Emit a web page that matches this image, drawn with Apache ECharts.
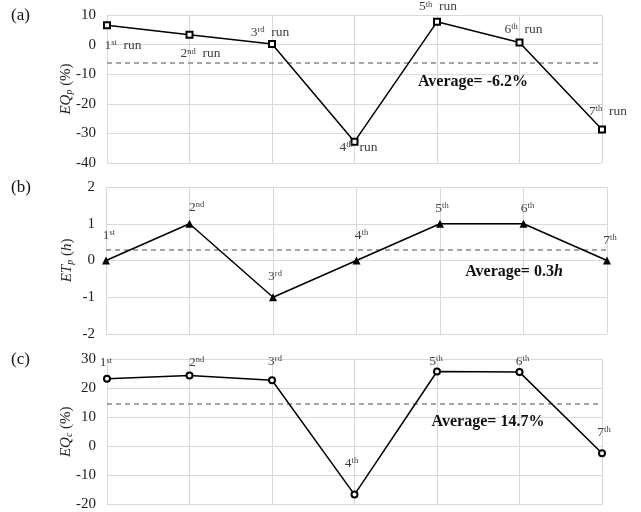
<!DOCTYPE html>
<html><head><meta charset="utf-8">
<script src="https://cdn.jsdelivr.net/npm/echarts@6/dist/echarts.min.js"></script>
<style>html,body{margin:0;padding:0;background:#fff}#c{width:641px;height:512px}</style>
</head><body><div id="c"></div>
<script>
const runs = ['1', '2', '3', '4', '5', '6', '7'];
const suffixes = ['st', 'nd', 'rd', 'th', 'th', 'th', 'th'];
const eqp = [6.5, 3.3, 0.2, -32.8, 7.7, 0.7, -28.7];
const etp = [0, 1, -1, 0, 1, 1, 0];
const eqc = [23.2, 24.3, 22.7, -16.6, 25.7, 25.5, -2.4];
const averages = [-6.2, 0.3, 14.7];
const avgTexts = ['Average= -6.2%', 'Average= 0.3h', 'Average= 14.7%'];
const yTicksA = [-40, -30, -20, -10, 0, 10];
const yTicksB = [-2, -1, 0, 1, 2];
const yTicksC = [-20, -10, 0, 10, 20, 30];
const panelLetters = ['(a)', '(b)', '(c)'];

// label offsets (style)
const offA = [[16, 20], [11, 19], [-2, -12], [4, 6], [1, -15], [4, -13], [6, -18]];
const offB = [[3, -25], [7, -16], [2, -21], [5, -25], [2, -15], [4, -15], [3, -20]];
const offC = [[-1, -16], [7, -13], [3, -19], [-3, -31], [-1, -10], [3, -11], [2, -21]];

const FONT = '"Liberation Serif", "Times New Roman", serif';
const chart = echarts.init(document.getElementById('c'));

const grids = [
  {left: 107, top: 15, width: 495, height: 148},
  {left: 106, top: 187, width: 501, height: 147},
  {left: 107, top: 359, width: 495, height: 148}
];
const ranges = [[yTicksA[0], yTicksA[yTicksA.length-1], 10], [yTicksB[0], yTicksB[yTicksB.length-1], 1], [yTicksC[0], yTicksC[yTicksC.length-1], 10]];
const names = [
  '{i|EQ}{sub|p}{n| (%)}',
  '{i|ET}{sub|p}{n| (}{i|h}{n|)}',
  '{i|EQ}{sub|c}{n| (%)}'
];
const gridLine = {lineStyle: {color: '#d9d9d9', width: 1}};

const xAxes = grids.map((g, i) => ({
  gridIndex: i, type: 'category', data: runs, boundaryGap: false,
  axisLine: {show: true, lineStyle: {color: '#d9d9d9'}}, axisTick: {show: false}, axisLabel: {show: false},
  splitLine: {show: true, ...gridLine}
}));
const yAxes = grids.map((g, i) => ({
  gridIndex: i, type: 'value', min: ranges[i][0], max: ranges[i][1], interval: ranges[i][2],
  axisLine: {show: false}, axisTick: {show: false},
  axisLabel: {color: '#222', fontFamily: FONT, fontSize: 15, margin: 11},
  splitLine: {show: true, ...gridLine},
  name: names[i], nameLocation: 'middle', nameRotate: 90, nameGap: [33, 31, 33][i],
  nameMoveOverlap: false,
  nameTextStyle: {
    fontFamily: FONT, fontSize: 15, color: '#222',
    rich: {
      i: {fontFamily: FONT, fontSize: 15, fontStyle: 'italic', color: '#222'},
      n: {fontFamily: FONT, fontSize: 15, color: '#222'},
      sub: {fontFamily: FONT, fontSize: 10, fontStyle: 'italic', color: '#222', verticalAlign: 'bottom', padding: [6, 0, 0, 0]}
    }
  }
}));

function labelRich() {
  return {
    n: {fontFamily: FONT, fontSize: 13.5, color: '#404040'},
    s: {fontFamily: FONT, fontSize: 8.5, color: '#404040', verticalAlign: 'top', padding: [0, 0, 5, 0]}
  };
}
function makeData(vals, offs, withRun) {
  return vals.map((v, k) => ({
    value: v,
    label: {
      show: true, position: 'inside', offset: offs[k],
      formatter: '{n|' + runs[k] + '}{s|' + suffixes[k] + '}' + (withRun ? '{n|  run}' : ''),
      rich: labelRich()
    }
  }));
}
const sets = [
  {vals: eqp, offs: offA, run: true, sym: 'rect', size: 6, fill: '#fff', bw: 2},
  {vals: etp, offs: offB, run: false, sym: 'triangle', size: 8, fill: '#000', bw: 0},
  {vals: eqc, offs: offC, run: false, sym: 'circle', size: 6, fill: '#fff', bw: 2}
];
const series = sets.map((s, i) => ({
  type: 'line', xAxisIndex: i, yAxisIndex: i,
  data: makeData(s.vals, s.offs, s.run),
  symbol: s.sym, symbolSize: s.size, showAllSymbol: true,
  itemStyle: {color: s.fill, borderColor: '#000', borderWidth: s.bw},
  lineStyle: {color: '#000', width: 1.5},
  z: 5,
  markLine: {
    silent: true, symbol: 'none',
    lineStyle: {color: '#888', type: [5, 4], width: 1.5},
    label: {show: false},
    data: [{yAxis: averages[i]}],
    z: 3
  }
}));

const avgPos = [[473, 82], [514, 272], [488, 422]];
const graphic = [];
panelLetters.forEach((t, i) => {
  graphic.push({type: 'text', left: 11, top: [7, 179, 351][i], z: 100,
    style: {text: t, font: '17px ' + FONT, fill: '#111'}});
});
avgTexts.forEach((t, i) => {
  const parts = i === 1 ? '{b|Average= 0.3}{bi|h}' : '{b|' + t + '}';
  graphic.push({type: 'text', x: avgPos[i][0], y: avgPos[i][1], z: 100,
    style: {text: parts, align: 'center', verticalAlign: 'middle',
      rich: {b: {font: 'bold 16px ' + FONT, fill: '#111'}, bi: {font: 'italic bold 16px ' + FONT, fill: '#111'}}}});
});

chart.setOption({
  animation: false,
  grid: grids,
  xAxis: xAxes,
  yAxis: yAxes,
  series: series,
  graphic: graphic
});
</script></body></html>
